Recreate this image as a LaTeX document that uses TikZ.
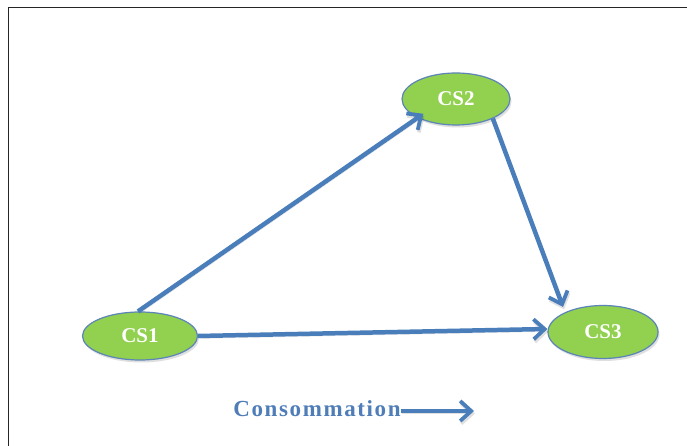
\documentclass[tikz,border=0pt]{standalone}
\usepackage{fontspec}
\setmainfont{Liberation Serif}
\usetikzlibrary{arrows.meta,shadows,shapes.geometric}
\definecolor{arrowblue}{HTML}{4A7EBB}
\definecolor{nodegreen}{HTML}{92D050}
\definecolor{nodeborder}{HTML}{5B84B8}
\definecolor{textblue}{HTML}{4F7DB8}
\tikzset{
  csnode/.style={ellipse, draw=nodeborder, line width=1.2pt, fill=nodegreen,
    minimum width=#1, font=\bfseries\fontsize{21}{23}\selectfont, text=white,
    drop shadow={shadow xshift=1.5pt, shadow yshift=-2.5pt, opacity=0.25}},
  flow/.style={draw=arrowblue, line width=4.5pt,
    -{Straight Barb[length=11pt,width=20pt,line width=3.8pt]},
    preaction={draw=black, opacity=0.12, transform canvas={xshift=1pt,yshift=-2.5pt}}},
}
\begin{document}
\begin{tikzpicture}[x=1pt,y=1pt]
\useasboundingbox (0,0) rectangle (687,446);
\fill[white] (0,0) rectangle (687,446);
\draw[line width=1.8pt, black!85] (8.5,0) -- (8.5,438.5) -- (687,438.5);
\node[csnode=115pt, minimum height=48pt, inner sep=0pt] (cs1) at (140,110) {CS1};
\node[csnode=108pt, minimum height=52pt, inner sep=0pt] (cs2) at (456,347) {CS2};
\node[csnode=110pt, minimum height=53pt, inner sep=0pt] (cs3) at (603,114) {CS3};
\draw[flow] ([xshift=-2pt]cs1.north) -- ([xshift=6pt,yshift=4pt]cs2.south west);
\draw[flow] (cs1.east) -- ([yshift=3pt]cs3.west);
\draw[flow] (cs2.-28) -- ([xshift=-40pt,yshift=-2pt]cs3.north);
\node[font=\bfseries\fontsize{23}{25}\selectfont\addfontfeature{LetterSpace=7}, text=textblue, inner sep=0pt] (lab) at (317,37) {Consommation};
\coordinate (labend) at (474,35);
\draw[flow] ([yshift=-2pt]lab.east) -- (labend);
\end{tikzpicture}
\end{document}
